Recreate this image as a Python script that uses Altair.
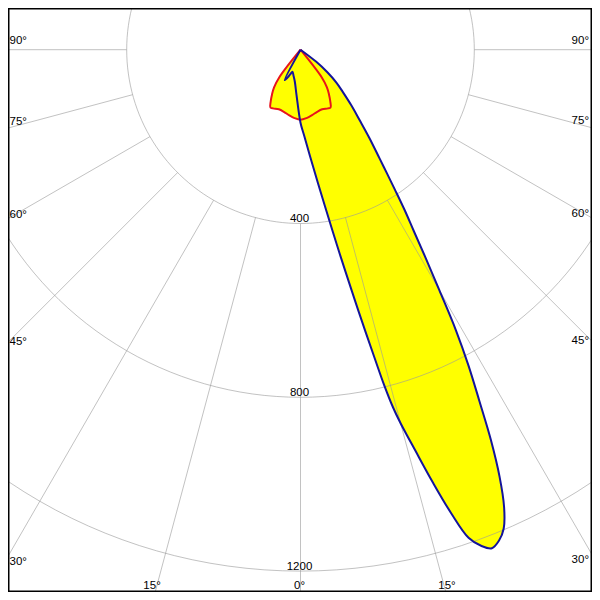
import math
import altair as alt
import pandas as pd

# ---- data (gamma angle in degrees, intensity in cd) ----
# blue curve: main plane (negative angles = left / house side)
blue_angles = [-30, -27.5, -25, -22.5, -20, -15, -10, -5, 0, 2.5, 5, 7.5, 10, 11, 12, 12.5,
               13, 13.5, 14, 14.5, 15, 16, 17, 18, 19, 20, 21, 22, 23, 24, 25, 26, 27, 28, 29, 30,
               31, 32, 33, 34, 35, 36, 38, 40, 42.5, 45, 47.5, 50, 52.5, 55]
blue_values = [0, 79, 71, 61, 54, 62, 75, 105, 168, 199, 244, 311, 422, 487, 567, 615,
               669, 728, 795, 850, 890, 961, 1041, 1121, 1188, 1215, 1229, 1219, 1197, 1152, 1084, 1000, 906, 824, 737, 639,
               560, 492, 440, 389, 346, 310, 257, 212, 172, 138, 112, 80, 45, 0]
# red curve: transverse plane (symmetric)
red_angles = [-40, -37.5, -35, -32.5, -30, -27.5, -25, -20, -15, -10, -5, 0,
              5, 10, 15, 20, 25, 27.5, 30, 32.5, 35, 37.5, 40]
red_values = [0, 80, 106, 122, 137, 150, 149, 146, 148, 153, 158, 161,
              158, 153, 148, 146, 149, 150, 137, 122, 106, 80, 0]

grid_radii = [400, 800, 1200]
radial_angles = list(range(-180, 181, 15))
side_labels = [90, 75, 60, 45, 30]
bottom_labels = [-15, 0, 15]

# ---- geometry ----
k = 0.4345                 # px per cd
cx_s, cy_s = 300.5, 49.7   # pole position on the page
W = H = 584
cx, cy = cx_s - 8, cy_s - 8
xs = alt.Scale(domain=[-cx / k, (W - cx) / k], nice=False, zero=False)
ys = alt.Scale(domain=[(cy - H) / k, cy / k], nice=False, zero=False)


def polar(a, r):
    t = math.radians(a)
    return r * math.sin(t), -r * math.cos(t)


def page_to_data(px, py):
    return (px - cx_s) / k, -(py - cy_s) / k


def curve_df(angles, values):
    rows = []
    for i, (a, r) in enumerate(zip(angles, values)):
        x, y = polar(a, r)
        rows.append({"i": i, "x": x, "y": y})
    return pd.DataFrame(rows)


blue_df = curve_df(blue_angles, blue_values)
red_df = curve_df(red_angles, red_values)

circ_rows = []
for r in grid_radii:
    for a in range(0, 361, 2):
        x, y = polar(a, r)
        circ_rows.append({"r": r, "a": a, "x": x, "y": y})
circ_df = pd.DataFrame(circ_rows)

rad_rows = []
for a in radial_angles:
    x1, y1 = polar(a, grid_radii[0])
    x2, y2 = polar(a, 1700)
    rad_rows.append({"x": x1, "y": y1, "x2": x2, "y2": y2})
rad_df = pd.DataFrame(rad_rows)

left_rows, right_rows, bottom_rows, value_rows = [], [], [], []
for a in side_labels:
    t = math.radians(a)
    ey = cy_s + cx_s * math.cos(t) / math.sin(t)
    x, y = page_to_data(9.5, ey - 8.5)
    left_rows.append({"t": f"{a}°", "x": x, "y": y})
    ey = cy_s + (600 - cx_s) * math.cos(t) / math.sin(t)
    x, y = page_to_data(589, ey - 8.5)
    right_rows.append({"t": f"{a}°", "x": x, "y": y})
for a in bottom_labels:
    dx = (600 - cy_s) * math.tan(math.radians(a))
    x, y = page_to_data(cx_s + dx - 1, 586)
    bottom_rows.append({"t": f"{abs(a)}°", "x": x, "y": y})
for r in grid_radii:
    x, y = page_to_data(cx_s - 1, cy_s + r * k - 1.5)
    value_rows.append({"t": str(r), "x": x, "y": y})

X = alt.X("x:Q", scale=xs, axis=None)
Y = alt.Y("y:Q", scale=ys, axis=None)
FONT = "Liberation Sans"
FS = 11.5
INTERP = "catmull-rom"

fill_blue = alt.Chart(blue_df).mark_line(fill="#ffff00", strokeOpacity=0, interpolate=INTERP, clip=True).encode(
    x=X, y=Y, order="i:Q")
fill_red = alt.Chart(red_df).mark_line(fill="#ffff00", strokeOpacity=0, interpolate=INTERP, clip=True).encode(
    x=X, y=Y, order="i:Q")

circles = alt.Chart(circ_df).mark_line(color="#9a9a9a", strokeWidth=1, opacity=0.6, clip=True).encode(
    x=X, y=Y, detail="r:N", order="a:Q")
radials = alt.Chart(rad_df).mark_rule(color="#9a9a9a", strokeWidth=1, opacity=0.6, clip=True).encode(
    x=X, y=Y, x2="x2:Q", y2="y2:Q")

line_red = alt.Chart(red_df).mark_line(color="#e8141c", strokeWidth=2, interpolate=INTERP, clip=True).encode(
    x=X, y=Y, order="i:Q")
line_blue = alt.Chart(blue_df).mark_line(color="#14149c", strokeWidth=2, interpolate=INTERP, clip=True).encode(
    x=X, y=Y, order="i:Q")

t_left = alt.Chart(pd.DataFrame(left_rows)).mark_text(
    align="left", baseline="middle", font=FONT, fontSize=FS, color="black").encode(x=X, y=Y, text="t:N")
t_right = alt.Chart(pd.DataFrame(right_rows)).mark_text(
    align="right", baseline="middle", font=FONT, fontSize=FS, color="black").encode(x=X, y=Y, text="t:N")
t_bottom = alt.Chart(pd.DataFrame(bottom_rows)).mark_text(
    align="center", baseline="middle", font=FONT, fontSize=FS, color="black").encode(x=X, y=Y, text="t:N")
t_values = alt.Chart(pd.DataFrame(value_rows)).mark_text(
    align="center", baseline="alphabetic", font=FONT, fontSize=FS, color="black").encode(x=X, y=Y, text="t:N")

frame = alt.Chart(pd.DataFrame({"z": [0]})).mark_rect(
    fillOpacity=0, stroke="black", strokeWidth=3).encode(
    x=alt.value(0), x2=alt.value(W), y=alt.value(0), y2=alt.value(H))

chart = alt.layer(
    fill_blue, fill_red, circles, radials, line_red, line_blue,
    t_left, t_right, t_bottom, t_values, frame
).properties(
    width=W, height=H, padding=0, autosize="none", background="white"
).configure_view(stroke=None)

chart.save("out.html", embed_options={"renderer": "svg", "actions": False})
